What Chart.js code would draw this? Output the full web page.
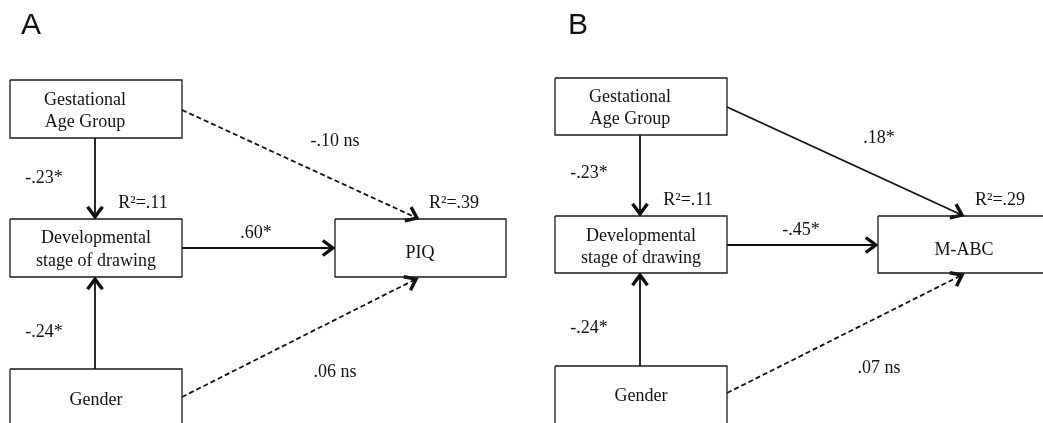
<!DOCTYPE html>
<html>
<head>
<meta charset="utf-8">
<script src="https://cdn.jsdelivr.net/npm/chart.js@4"></script>
<style>
  html, body { margin: 0; padding: 0; background: #fff; }
  #wrap { width: 1043px; height: 423px; position: relative; }
</style>
</head>
<body>
<div id="wrap"><canvas id="chart"></canvas></div>
<script>
'use strict';

// data
const panelTitles = ['A', 'B'];
const predictorNames = [['Gestational', 'Age Group'], ['Developmental', 'stage of drawing'], ['Gender']];
const outcomeNames = ['PIQ', 'M-ABC'];
// path order: gest->dev, gender->dev, dev->outcome, gest->outcome, gender->outcome
const pathCoefA = ['-.23*', '-.24*', '.60*', '-.10 ns', '.06 ns'];
const pathCoefB = ['-.23*', '-.24*', '-.45*', '.18*', '.07 ns'];
const significantA = [true, true, true, false, false];
const significantB = [true, true, true, true, false];
const rSquaredA = ['.11', '.39'];
const rSquaredB = ['.11', '.29'];

// layout (diagram units = pixels of the 1043x423 page)
const layouts = [
  {
    title: [31, 26],
    boxes: { gest: [10, 80, 182, 138], dev: [10, 219, 182, 277], out: [335, 219, 506, 277], gender: [10, 369, 182, 450] },
    gestText: 85, devText: 96, outText: 420, genderText: 96,
    textY: { gest: [100.5, 122.5], dev: [238.5, 261], out: 253, gender: 400 },
    edges: [[95, 138, 95, 219], [95, 369, 95, 277], [182, 248, 335, 248], [182, 110, 419, 219], [182, 397, 418, 278]],
    coefPos: [[44, 178], [44, 332], [256, 233], [335, 141], [335, 372]],
    r2Pos: [[143, 203], [454, 203]]
  },
  {
    title: [578, 26],
    boxes: { gest: [555, 78, 727, 135], dev: [555, 216, 727, 273], out: [878, 216, 1070, 273], gender: [555, 366, 727, 450] },
    gestText: 630, devText: 641, outText: 964, genderText: 641,
    textY: { gest: [97.5, 119], dev: [236, 258], out: 250, gender: 396 },
    edges: [[640, 135, 640, 216], [640, 366, 640, 273], [727, 245, 878, 245], [727, 107, 964, 216], [727, 393, 964, 274]],
    coefPos: [[589, 173], [589, 328], [801, 230], [879, 138], [879, 368]],
    r2Pos: [[688, 200], [1000, 200]]
  }
];

const ink = '#111111';
const serif = '"Liberation Serif", "Times New Roman", serif';

function rectPoints(b) {
  return [{x: b[0], y: b[1]}, {x: b[2], y: b[1]}, {x: b[2], y: b[3]}, {x: b[0], y: b[3]}, {x: b[0], y: b[1]}];
}

function arrowHead(e) {
  const dx = e[2] - e[0], dy = e[3] - e[1];
  const len = Math.hypot(dx, dy);
  const ux = dx / len, uy = dy / len;
  const tx = e[2] - ux * 2.2, ty = e[3] - uy * 2.2;
  const back = 10, half = 7.5;
  return [
    {x: tx - ux * back - uy * half, y: ty - uy * back + ux * half},
    {x: tx, y: ty},
    {x: tx - ux * back + uy * half, y: ty - uy * back - ux * half}
  ];
}

const datasets = [];
const significance = [significantA, significantB];
layouts.forEach(function(lay, p) {
  Object.keys(lay.boxes).forEach(function(k) {
    datasets.push({ data: rectPoints(lay.boxes[k]), borderColor: '#1a1a1a', borderWidth: 1.3, borderJoinStyle: 'miter' });
  });
  lay.edges.forEach(function(e, i) {
    datasets.push({
      data: [{x: e[0], y: e[1]}, {x: e[2], y: e[3]}],
      borderColor: ink, borderWidth: 1.8,
      borderDash: significance[p][i] ? [] : [5, 3]
    });
    datasets.push({ data: arrowHead(e), borderColor: ink, borderWidth: 3.4, borderJoinStyle: 'miter', borderCapStyle: 'butt' });
  });
});
datasets.forEach(function(d) {
  d.showLine = true;
  d.pointRadius = 0;
  d.fill = false;
  d.tension = 0;
});

const labelPlugin = {
  id: 'diagramText',
  afterDraw(chart) {
    const ctx = chart.ctx;
    const sx = chart.scales.x, sy = chart.scales.y;
    const px = v => sx.getPixelForValue(v), py = v => sy.getPixelForValue(v);
    const coefs = [pathCoefA, pathCoefB], r2s = [rSquaredA, rSquaredB];
    ctx.save();
    ctx.fillStyle = ink;
    ctx.textAlign = 'center';
    ctx.textBaseline = 'middle';
    layouts.forEach(function(lay, p) {
      ctx.font = '30px "Liberation Sans", Arial, sans-serif';
      ctx.fillText(panelTitles[p], px(lay.title[0]), py(lay.title[1]));
      ctx.font = '18px ' + serif;
      predictorNames[0].forEach((t, i) => ctx.fillText(t, px(lay.gestText), py(lay.textY.gest[i])));
      predictorNames[1].forEach((t, i) => ctx.fillText(t, px(lay.devText), py(lay.textY.dev[i])));
      ctx.fillText(predictorNames[2][0], px(lay.genderText), py(lay.textY.gender));
      ctx.fillText(outcomeNames[p], px(lay.outText), py(lay.textY.out));
      coefs[p].forEach((t, i) => ctx.fillText(t, px(lay.coefPos[i][0]), py(lay.coefPos[i][1])));
      r2s[p].forEach((t, i) => ctx.fillText('R\u00b2=' + t, px(lay.r2Pos[i][0]), py(lay.r2Pos[i][1])));
    });
    ctx.restore();
  }
};

new Chart(document.getElementById('chart').getContext('2d'), {
  type: 'scatter',
  data: { datasets: datasets },
  options: {
    responsive: true,
    maintainAspectRatio: false,
    animation: false,
    layout: { padding: 0 },
    plugins: { legend: { display: false }, tooltip: { enabled: false } },
    scales: {
      x: { type: 'linear', min: 0, max: 1043, display: false },
      y: { type: 'linear', min: 0, max: 423, reverse: true, display: false }
    }
  },
  plugins: [labelPlugin]
});
</script>
</body>
</html>
